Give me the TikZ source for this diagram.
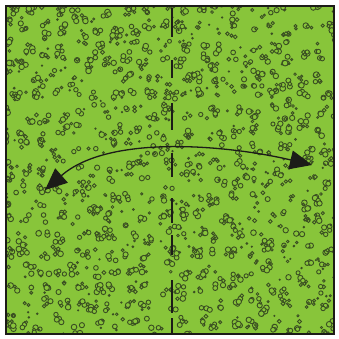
\documentclass[tikz,border=0pt]{standalone}
\usepackage{tikz}
\usetikzlibrary{arrows.meta}

\definecolor{sheetgreen}{RGB}{136,197,58}
\definecolor{speck}{RGB}{58,78,34}
\definecolor{ink}{RGB}{28,28,24}

\begin{document}
\begin{tikzpicture}[
                x=1pt, y=-1pt,
                sheet/.style={draw=ink, line width=2.2pt},
                blob/.style={draw=speck, line width=0.9pt, fill=sheetgreen},
                dot/.style={fill=speck},
                foldline/.style={draw=ink, line width=2pt},
                swing/.style={{Triangle[length=22pt,width=19pt]}-{Triangle[length=22pt,width=19pt]}, draw=ink, line width=1.3pt},
            ]
            \useasboundingbox (0,0) rectangle (339,339);
            \fill[white] (0,0) rectangle (339,339);
            \fill[sheetgreen] (6,6) rectangle (334,334);

            % speckled paper
            \pgfmathsetseed{4217}
            \begin{scope}
                \clip (6,6) rectangle (334,334);
                \foreach \gx in {0,...,19}{
                    \foreach \gy in {0,...,19}{
                        \pgfmathsetmacro{\cx}{2+17.5*\gx+12*rnd}
                        \pgfmathsetmacro{\cy}{2+17.5*\gy+12*rnd}
                        \pgfmathtruncatemacro{\nb}{2+5*rnd}
                        \foreach \j in {1,...,\nb}{
                            \pgfmathsetmacro{\dx}{10*rnd-5}
                            \pgfmathsetmacro{\dy}{10*rnd-5}
                            \pgfmathsetmacro{\rr}{1.3+1.6*rnd}
                            \draw[blob] (\cx+\dx,\cy+\dy) circle[radius=\rr];
                        }
                    }
                }
                \foreach \i in {1,...,320}{
                    \pgfmathsetmacro{\cx}{2+336*rnd}
                    \pgfmathsetmacro{\cy}{2+336*rnd}
                    \pgfmathsetmacro{\rr}{0.6+0.8*rnd}
                    \draw[blob, line width=0.8pt] (\cx,\cy) circle[radius=\rr];
                }
            \end{scope}
            \draw[sheet] (6,6) rectangle (334,334);

            % fold line
            \foreach \a/\b in {8/37,60/78,103/130,153/177,198/223,235/255,280/313,318/333}
                \draw[foldline] (172,\a) -- (172,\b);

            % arrow
            \coordinate (leftend) at (45,190);
            \coordinate (rightend) at (312,165);
            \draw[swing] (leftend) .. controls (110,133) and (232,146) .. (rightend);
        \end{tikzpicture}
\end{document}
